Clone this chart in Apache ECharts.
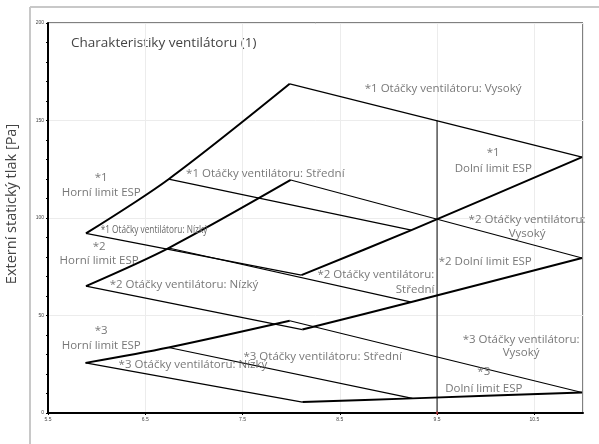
<!DOCTYPE html>
<html>
<head>
<meta charset="utf-8">
<script src="https://cdn.jsdelivr.net/npm/echarts@6/dist/echarts.min.js"></script>
<style>
  html, body { margin: 0; padding: 0; background: #fff; }
  #chart { width: 599px; height: 444px; }
</style>
</head>
<body>
<div id="chart"></div>
<script>
const chartTitle = 'Charakteristiky ventilátoru (1)';
const yAxisTitle = 'Externí statický tlak [Pa]';

// Axis ranges
const flowMin = 5.5, flowMax = 11, flowStep = 1;
const pressureMin = 0, pressureMax = 200, pressureStep = 50;

// Operating points on the upper / lower ESP limit curves,
// one point per fan speed: low, medium, high.
const upper1Flow = [5.89, 6.74, 7.985];
const upper1Pressure = [92.1, 119.9, 168.8];
const lower1Flow = [8.105, 9.236, 10.99];
const lower1Pressure = [70.7, 93.8, 131.2];

const upper2Flow = [5.89, 6.74, 7.995];
const upper2Pressure = [65.1, 84.6, 119.5];
const lower2Flow = [8.115, 9.236, 10.99];
const lower2Pressure = [42.8, 56.9, 79.5];

const upper3Flow = [5.886, 6.74, 7.985];
const upper3Pressure = [25.7, 33.6, 47.3];
const lower3Flow = [8.115, 9.246, 10.99];
const lower3Pressure = [5.6, 7.5, 10.5];

// Reference flow marker
const markerFlow = 9.5;
const markerPressure = [0, 150];

// Curve annotations: text and anchor in chart units
const annotations = [
  { text: '*1 Otáčky ventilátoru: Vysoký', at: [9.562, 166.2] },
  { text: '*1\nDolní limit ESP', at: [10.077, 129.3], lh: 16 },
  { text: '*1\nHorní limit ESP', at: [6.047, 116.7], lh: 15 },
  { text: '*1 Otáčky ventilátoru: Střední', at: [7.734, 122.9] },
  { text: '*2\nHorní limit ESP', at: [6.026, 81.7], lh: 14 },
  { text: '*2 Otáčky ventilátoru: Nízký', at: [6.898, 65.6] },
  { text: '*2 Otáčky ventilátoru:\nVysoký', at: [10.425, 95.5], lh: 13.5 },
  { text: '*2 Dolní limit ESP', at: [9.995, 77.6] },
  { text: '*2 Otáčky ventilátoru:\nStřední', at: [9.472, 66.9], lh: 15, align: 'right' },
  { text: '*3\nHorní limit ESP', at: [6.047, 38.3], lh: 15 },
  { text: '*3 Otáčky ventilátoru: Nízký', at: [6.99, 25.0] },
  { text: '*3 Otáčky ventilátoru: Střední', at: [8.324, 29.1] },
  { text: '*3 Otáčky ventilátoru:\nVysoký', at: [10.364, 34.3], lh: 13.5 },
  { text: '*3\nDolní limit ESP', at: [9.98, 16.8], lh: 16.6 }
];
// Condensed annotation squeezed between the curves
const narrowNote = { text: '*1 Otáčky ventilátoru: Nízký', at: [6.59, 93.8] };

const groups = [
  { uf: upper1Flow, up: upper1Pressure, lf: lower1Flow, lp: lower1Pressure },
  { uf: upper2Flow, up: upper2Pressure, lf: lower2Flow, lp: lower2Pressure },
  { uf: upper3Flow, up: upper3Pressure, lf: lower3Flow, lp: lower3Pressure }
];

function pairs(xs, ys) { return xs.map((x, i) => [x, ys[i]]); }

const series = [];
groups.forEach(g => {
  // limit curves
  [pairs(g.uf, g.up), pairs(g.lf, g.lp)].forEach(d => {
    series.push({
      type: 'line', data: d, symbol: 'none', smooth: 0.3,
      lineStyle: { color: '#000', width: 2 }, z: 3, silent: true
    });
  });
  // fan speed lines: upper limit point to lower limit point
  for (let i = 0; i < 3; i++) {
    series.push({
      type: 'line', data: [[g.uf[i], g.up[i]], [g.lf[i], g.lp[i]]], symbol: 'none',
      lineStyle: { color: '#000', width: 1.2 }, z: 3, silent: true
    });
  }
});

series.push({
  type: 'line', data: markerPressure.map(p => [markerFlow, p]), symbol: 'none',
  lineStyle: { color: '#555', width: 1.5 }, z: 2, silent: true
});
series.push({
  type: 'scatter', data: [[markerFlow, pressureMin]], symbol: 'rect', symbolSize: [1.5, 3],
  itemStyle: { color: '#e03030' }, z: 4, silent: true
});

series.push({
  type: 'scatter', symbolSize: 0, silent: true, z: 5,
  data: annotations.map(a => ({
    value: a.at, name: a.text,
    label: {
      show: true, position: 'inside', formatter: '{b}',
      align: a.align || 'center', verticalAlign: 'middle',
      fontFamily: 'Open Sans', fontSize: 11.5,
      lineHeight: a.lh || 14, color: '#555'
    }
  }))
});

const chart = echarts.init(document.getElementById('chart'), null, { renderer: 'canvas' });
const staticGraphics = [
  { type: 'line', shape: { x1: 30, y1: 7, x2: 599, y2: 7 }, style: { stroke: '#c8c8c8', lineWidth: 2 }, silent: true },
  { type: 'line', shape: { x1: 30, y1: 7, x2: 30, y2: 444 }, style: { stroke: '#c8c8c8', lineWidth: 2 }, silent: true },
  { type: 'text', x: 71, y: 43, style: { text: chartTitle, font: '13.5px "Open Sans"', fill: '#444', verticalAlign: 'middle' }, silent: true },
  { type: 'text', x: 12, y: 204, rotation: Math.PI / 2, style: { text: yAxisTitle, font: '14.5px "Open Sans"', fill: '#444', align: 'center', verticalAlign: 'middle' }, silent: true }
];
chart.setOption({
  animation: false,
  backgroundColor: '#fff',
  grid: { left: 48, right: 16, top: 23, bottom: 31, show: true, borderColor: '#000', borderWidth: 1, backgroundColor: 'transparent' },
  xAxis: {
    type: 'value', min: flowMin, max: flowMax, interval: flowStep,
    axisLine: { lineStyle: { color: '#000', width: 2 } },
    axisTick: { show: true, length: 2, lineStyle: { color: '#000' } },
    axisLabel: { fontSize: 5, color: '#444', margin: 4, showMaxLabel: false, formatter: v => v.toFixed(1) },
    splitLine: { show: true, lineStyle: { color: '#ececec', width: 1 } }
  },
  yAxis: {
    type: 'value', min: pressureMin, max: pressureMax, interval: pressureStep,
    axisLine: { show: true, lineStyle: { color: '#000', width: 2 } },
    axisTick: { show: true, length: 2, lineStyle: { color: '#000' } },
    minorTick: { show: true, splitNumber: 5, length: 2, lineStyle: { color: '#000' } },
    axisLabel: { fontSize: 5, color: '#444', margin: 4 },
    splitLine: { show: true, lineStyle: { color: '#ececec', width: 1 } }
  },
  graphic: staticGraphics,
  series: series
});

// Condensed label: horizontally scaled text anchored at chart coordinates
const np = chart.convertToPixel({ gridIndex: 0 }, narrowNote.at);
chart.setOption({
  graphic: staticGraphics.concat([{
    type: 'text', x: np[0], y: np[1], scaleX: 0.75, z: 100,
    style: { text: narrowNote.text, font: '11px "Open Sans"', fill: '#666', align: 'center', verticalAlign: 'middle' },
    silent: true
  }])
});
</script>
</body>
</html>
